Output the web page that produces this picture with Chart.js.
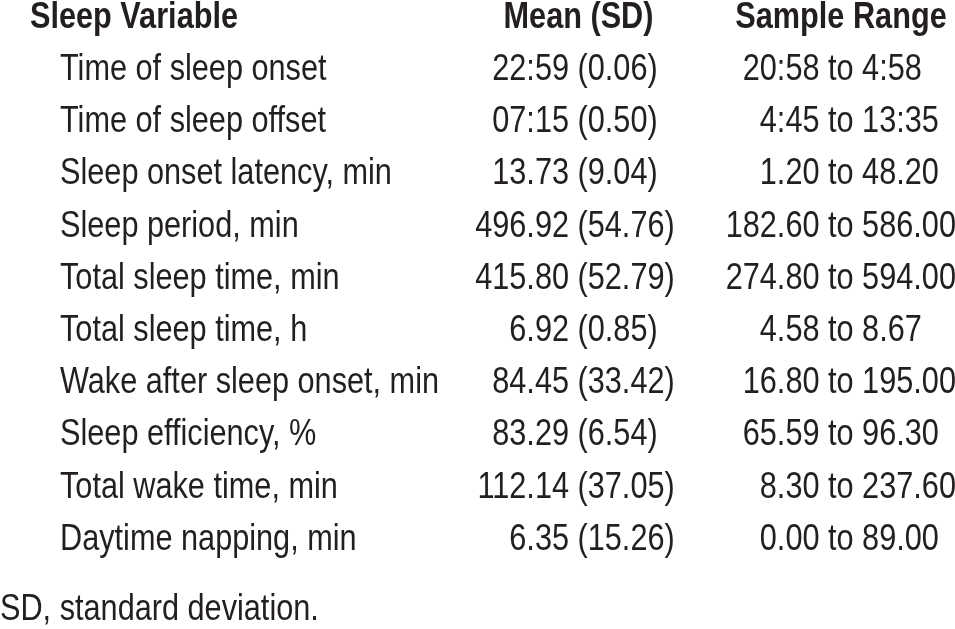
<!DOCTYPE html>
<html>
<head>
<meta charset="utf-8">
<script src="https://cdn.jsdelivr.net/npm/chart.js@4.4.1/dist/chart.umd.min.js"></script>
<style>
html, body { margin: 0; padding: 0; background: #fff; }
#cadre { width: 955px; height: 629px; }
</style>
</head>
<body>
<div id="cadre"><canvas id="tableau"></canvas></div>
<script>
const entetes = ["Sleep Variable", "Mean (SD)", "Sample Range"];
const variables = [
    "Time of sleep onset",
    "Time of sleep offset",
    "Sleep onset latency, min",
    "Sleep period, min",
    "Total sleep time, min",
    "Total sleep time, h",
    "Wake after sleep onset, min",
    "Sleep efficiency, %",
    "Total wake time, min",
    "Daytime napping, min"
];
const moyennes = ["22:59", "07:15", "13.73", "496.92", "415.80", "6.92", "84.45", "83.29", "112.14", "6.35"];
const ecartsTypes = ["0.06", "0.50", "9.04", "54.76", "52.79", "0.85", "33.42", "6.54", "37.05", "15.26"];
const minimums = ["20:58", "4:45", "1.20", "182.60", "274.80", "4.58", "16.80", "65.59", "8.30", "0.00"];
const maximums = ["4:58", "13:35", "48.20", "586.00", "594.00", "8.67", "195.00", "96.30", "237.60", "89.00"];
const note = "SD, standard deviation.";

const police = "'Liberation Sans', Arial, sans-serif";
const couleurTexte = "#231f20";
const taille = 37;
const etroit = 0.829; // pas de police condensee installee : on resserre a la main

// ancrages horizontaux des colonnes (unites de l'axe x, 0 a 955)
const colonnes = { nom: 60, moyenne: 569, etendue: 819.5 };
const ancresEntetes = [
    { x: 30, align: "left" },
    { x: 578.5, align: "center" },
    { x: 841, align: "center" }
];

function points(xCol) {
    return variables.map((v, i) => ({ x: xCol, y: i + 1 }));
}

function ecrire(ctx, texte, x, y, align) {
    ctx.save();
    ctx.translate(x, y);
    ctx.scale(etroit, 1);
    ctx.textAlign = align;
    ctx.fillText(texte, 0, 0);
    ctx.restore();
}

const texteTableau = {
    id: 'texteTableau',
    afterDatasetsDraw(chart) {
        const ctx = chart.ctx;
        const sx = chart.scales.x;
        const sy = chart.scales.y;
        ctx.save();
        ctx.fillStyle = couleurTexte;
        ctx.textBaseline = "alphabetic";

        // ligne d'en-tete
        ctx.font = "bold " + taille + "px " + police;
        const yEntete = sy.getPixelForValue(0);
        entetes.forEach((t, j) => {
            ecrire(ctx, t, sx.getPixelForValue(ancresEntetes[j].x), yEntete, ancresEntetes[j].align);
        });

        ctx.font = taille + "px " + police;
        const noms = chart.getDatasetMeta(0).data;
        const moy = chart.getDatasetMeta(1).data;
        const eten = chart.getDatasetMeta(2).data;
        variables.forEach((v, i) => {
            ecrire(ctx, v, noms[i].x, noms[i].y, "left");

            // moyenne alignee a droite, (SD) a gauche
            ecrire(ctx, moyennes[i], moy[i].x, moy[i].y, "right");
            ecrire(ctx, " (" + ecartsTypes[i] + ")", moy[i].x, moy[i].y, "left");

            // etendue alignee sur "to"
            ecrire(ctx, minimums[i], eten[i].x, eten[i].y, "right");
            ecrire(ctx, " to " + maximums[i], eten[i].x, eten[i].y, "left");
        });

        // note de bas de tableau, dans la place reservee par le titre
        const bloc = chart.titleBlock;
        ecrire(ctx, note, bloc.left, bloc.bottom - 9, "left");
        ctx.restore();
    }
};

new Chart(document.getElementById('tableau').getContext('2d'), {
    type: 'scatter',
    data: {
        datasets: [
            { label: entetes[0], data: points(colonnes.nom), pointRadius: 0 },
            { label: entetes[1], data: points(colonnes.moyenne), pointRadius: 0 },
            { label: entetes[2], data: points(colonnes.etendue), pointRadius: 0 }
        ]
    },
    options: {
        responsive: true,
        maintainAspectRatio: false,
        animation: false,
        events: [],
        layout: { padding: 0 },
        scales: {
            x: { type: 'linear', min: 0, max: 955, display: false },
            y: { type: 'linear', reverse: true, min: -0.533, max: 10.387, display: false }
        },
        plugins: {
            legend: { display: false },
            tooltip: { enabled: false },
            title: {
                display: true,
                text: note,
                position: 'bottom',
                align: 'start',
                color: 'rgba(0,0,0,0)',
                font: { family: police, size: taille, weight: 'normal', lineHeight: 1 },
                padding: { top: 20, bottom: 2 }
            }
        }
    },
    plugins: [texteTableau]
});
</script>
</body>
</html>
